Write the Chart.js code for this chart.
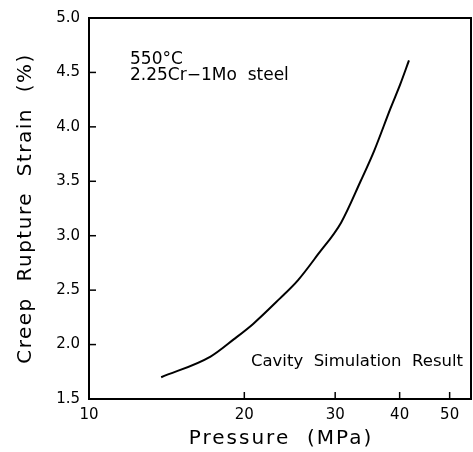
<!DOCTYPE html>
<html lang="en">
<head>
    <meta charset="UTF-8">
    <title>Creep rupture strain</title>
    <script src="https://cdn.jsdelivr.net/npm/chart.js@4"></script>
    <style>
        body { margin: 0; background: #fff; }
        #wrap { width: 473px; height: 452px; }
    </style>
</head>
<body>
<div id="wrap"><canvas id="myChart" width="473" height="452"></canvas></div>
<script>
    // Pression (MPa) et deformation (%)
    let pressions = [13.8, 17.2, 19.1, 20.8, 23.4, 25.4, 27.8, 30.8, 33.6, 35.7, 38.4, 40.1, 41.7];
    let deformations = [1.70, 1.89, 2.05, 2.19, 2.42, 2.59, 2.83, 3.12, 3.50, 3.78, 4.17, 4.39, 4.61];
    let ticksX = [10, 20, 30, 40, 50];
    let ticksY = [1.5, 2.0, 2.5, 3.0, 3.5, 4.0, 4.5, 5.0];

    let police = '"DejaVu Sans", sans-serif';

    // Cadre, petites graduations interieures et textes
    let decor = {
        id: 'decor',
        afterDraw: (chart) => {
            let ctx = chart.ctx;
            let zone = chart.chartArea;
            let sx = chart.scales.x;
            let sy = chart.scales.y;
            ctx.save();
            ctx.strokeStyle = '#000';
            ctx.lineWidth = 2;
            ctx.strokeRect(zone.left, zone.top, zone.right - zone.left, zone.bottom - zone.top);

            ctx.lineWidth = 1.5;
            ticksY.forEach(v => {
                let y = sy.getPixelForValue(v);
                ctx.beginPath();
                ctx.moveTo(zone.left, y);
                ctx.lineTo(zone.left + 7, y);
                ctx.stroke();
            });
            ticksX.forEach(v => {
                let x = sx.getPixelForValue(v);
                ctx.beginPath();
                ctx.moveTo(x, zone.bottom);
                ctx.lineTo(x, zone.bottom - 7);
                ctx.stroke();
            });

            ctx.fillStyle = '#000';
            ctx.font = '17px ' + police;
            ctx.textAlign = 'left';
            ctx.textBaseline = 'alphabetic';
            ctx.fillText('550°C', 130, 64);
            ctx.fillText('2.25Cr\u22121Mo  steel', 130, 80);
            ctx.font = '16.5px ' + police;
            ctx.textAlign = 'right';
            ctx.fillText('Cavity  Simulation  Result', 463, 366);

            ctx.font = '20px ' + police;
            ctx.letterSpacing = '2px';
            ctx.textAlign = 'center';
            ctx.fillText('Pressure  (MPa)', (zone.left + zone.right) / 2 + 1, 444);

            ctx.letterSpacing = '1.5px';
            ctx.translate(31, (zone.top + zone.bottom) / 2);
            ctx.rotate(-Math.PI / 2);
            ctx.fillText('Creep  Rupture  Strain  (%)', 0, 0);
            ctx.restore();
        }
    };

    let ctx = document.getElementById('myChart').getContext('2d');
    let chart = new Chart(ctx, {
        type: 'line',
        data: {
            datasets: [{
                data: pressions.map((p, i) => ({x: p, y: deformations[i]})),
                borderColor: '#000',
                borderWidth: 2,
                pointRadius: 0,
                cubicInterpolationMode: 'monotone',
                fill: false
            }]
        },
        options: {
            responsive: false,
            animation: false,
            layout: {padding: {top: 16, right: 2, left: 0, bottom: 0}},
            plugins: {legend: {display: false}, tooltip: {enabled: false}},
            scales: {
                x: {
                    type: 'logarithmic',
                    min: 10,
                    max: 55,
                    afterBuildTicks: (s) => { s.ticks = ticksX.map(v => ({value: v})); },
                    afterFit: (s) => { s.height = 53; },
                    grid: {display: false, drawTicks: false},
                    border: {display: false},
                    ticks: {
                        color: '#000',
                        padding: 7,
                        maxRotation: 0,
                        autoSkip: false,
                        font: {family: police, size: 15},
                        callback: (v) => String(v)
                    }
                },
                y: {
                    type: 'linear',
                    min: 1.5,
                    max: 5.0,
                    afterBuildTicks: (s) => { s.ticks = ticksY.map(v => ({value: v})); },
                    afterFit: (s) => { s.width = 89; },
                    grid: {display: false, drawTicks: false},
                    border: {display: false},
                    ticks: {
                        color: '#000',
                        padding: 9,
                        font: {family: police, size: 15},
                        callback: (v) => v.toFixed(1)
                    }
                }
            }
        },
        plugins: [decor]
    });
</script>
</body>
</html>
